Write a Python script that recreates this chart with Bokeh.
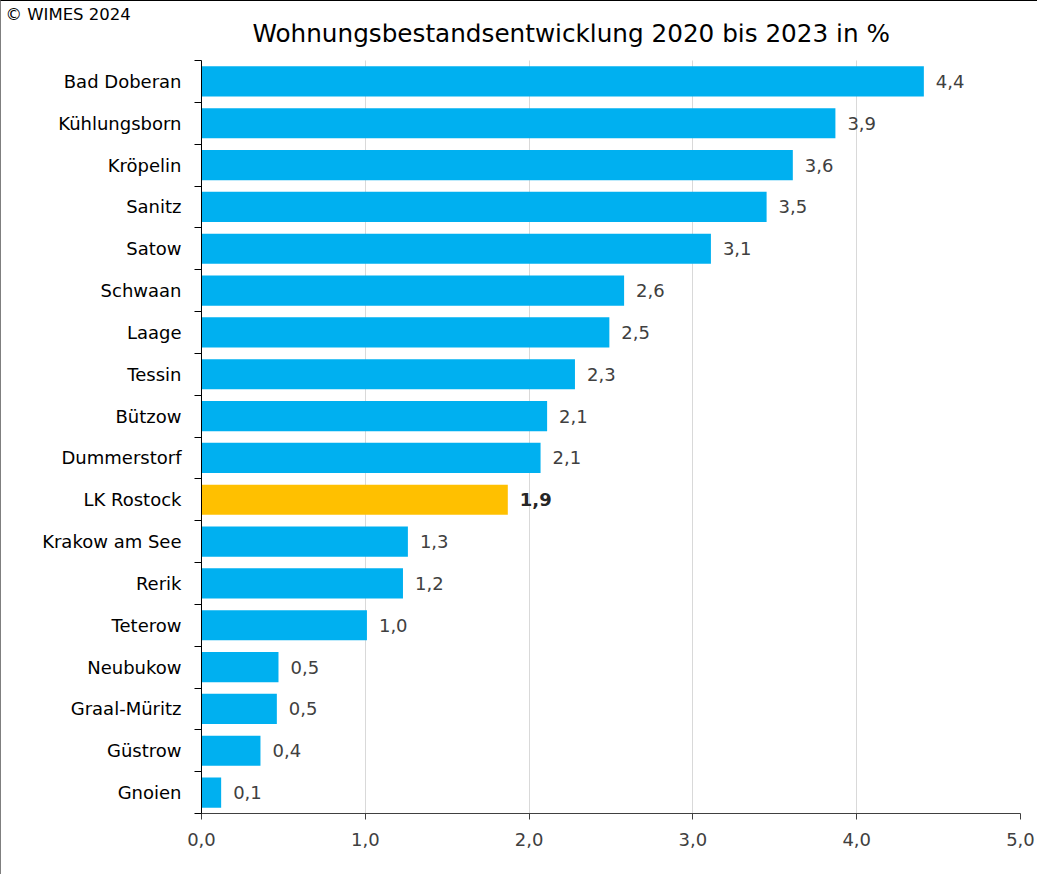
from bokeh.plotting import figure
from bokeh.models import ColumnDataSource, Range1d, FixedTicker, Title
from bokeh.core.properties import value
from bokeh.embed import file_html
from bokeh.resources import INLINE

# ---- data ----
categories = ["Bad Doberan", "Kühlungsborn", "Kröpelin", "Sanitz", "Satow", "Schwaan",
              "Laage", "Tessin", "Bützow", "Dummerstorf", "LK Rostock", "Krakow am See",
              "Rerik", "Teterow", "Neubukow", "Graal-Müritz", "Güstrow", "Gnoien"]
values = [4.41, 3.87, 3.61, 3.45, 3.11, 2.58, 2.49, 2.28, 2.11, 2.07, 1.87, 1.26,
          1.23, 1.01, 0.47, 0.46, 0.36, 0.12]
value_labels = ["4,4", "3,9", "3,6", "3,5", "3,1", "2,6", "2,5", "2,3", "2,1", "2,1",
                "1,9", "1,3", "1,2", "1,0", "0,5", "0,5", "0,4", "0,1"]
highlight = "LK Rostock"
x_ticks = [0, 1, 2, 3, 4, 5]
x_tick_labels = ["0,0", "1,0", "2,0", "3,0", "4,0", "5,0"]
title_text = "Wohnungsbestandsentwicklung 2020 bis 2023 in %"
copyright_text = "© WIMES 2024"

FONT = "DejaVu Sans"
n = len(categories)
centers = [n - i - 0.5 for i in range(n)]

# layout constants (pixels)
W, H = 1037, 874
BORDER_TOP, BORDER_BOTTOM = 22, 62
BAR_AREA = 753                      # pixel height of the 18 category rows
frame_h = H - BORDER_TOP - BORDER_BOTTOM
y_top = n * frame_h / BAR_AREA      # extra room above the bars for the title

src = ColumnDataSource(dict(
    y=centers,
    v=values,
    lab=value_labels,
    color=["#FFC000" if c == highlight else "#00B0F0" for c in categories],
    tcolor=["#262626" if c == highlight else "#404040" for c in categories],
    tstyle=["bold" if c == highlight else "normal" for c in categories],
))

p = figure(width=W, height=H, output_backend="svg", toolbar_location=None,
           title=None,
           x_range=Range1d(0, 5), y_range=Range1d(0, y_top),
           min_border_left=200, min_border_right=18,
           min_border_top=BORDER_TOP, min_border_bottom=BORDER_BOTTOM,
           styles={"border-top": "1px solid #000000", "border-left": "1px solid #7f7f7f"})
p.outline_line_color = None

# copyright line in the top panel
p.add_layout(Title(text=copyright_text, align="left", offset=-196, text_font=FONT,
                   text_font_size="16.5px", text_font_style="normal", text_color="#000000",
                   standoff=0), "above")

# main title, centred 27px above the top category row
p.text(x=[0], y=[n], text=[title_text], x_offset=51, y_offset=-27,
       text_baseline="middle", text_align="left", text_font=value(FONT),
       text_font_size="24.7px", text_color="#000000")

p.hbar(y="y", right="v", left=0, height=0.72, source=src, fill_color="color", line_color=None)
p.text(x="v", y="y", text="lab", source=src, x_offset=12, text_baseline="middle",
       text_align="left", text_font=value(FONT), text_font_size="18px",
       text_color="tcolor", text_font_style="tstyle")

# x axis
xa = p.xaxis[0]
xa.ticker = FixedTicker(ticks=x_ticks)
xa.major_label_overrides = {t: l for t, l in zip(x_ticks, x_tick_labels)}
xa.axis_line_color = "#404040"
xa.major_tick_line_color = "#404040"
xa.major_tick_out = 6
xa.major_tick_in = 0
xa.minor_tick_line_color = None
xa.major_label_text_font = FONT
xa.major_label_text_font_size = "18px"
xa.major_label_text_color = "#404040"
xa.major_label_standoff = 13

# y axis
ya = p.yaxis[0]
ya.bounds = (0, n)
ya.ticker = FixedTicker(ticks=centers, minor_ticks=list(range(n + 1)))
ya.major_label_overrides = {c: name for c, name in zip(centers, categories)}
ya.axis_line_color = "#000000"
ya.major_tick_line_color = None
ya.major_tick_out = 0
ya.major_tick_in = 0
ya.minor_tick_line_color = "#000000"
ya.minor_tick_out = 7
ya.minor_tick_in = 0
ya.major_label_text_font = FONT
ya.major_label_text_font_size = "18px"
ya.major_label_text_color = "#000000"
ya.major_label_standoff = 13

p.xgrid.ticker = FixedTicker(ticks=x_ticks)
p.xgrid.cross_bounds = (0, n)
p.xgrid.grid_line_color = "#d9d9d9"
p.ygrid.grid_line_color = None

open("out.html", "w").write(file_html(p, INLINE))
